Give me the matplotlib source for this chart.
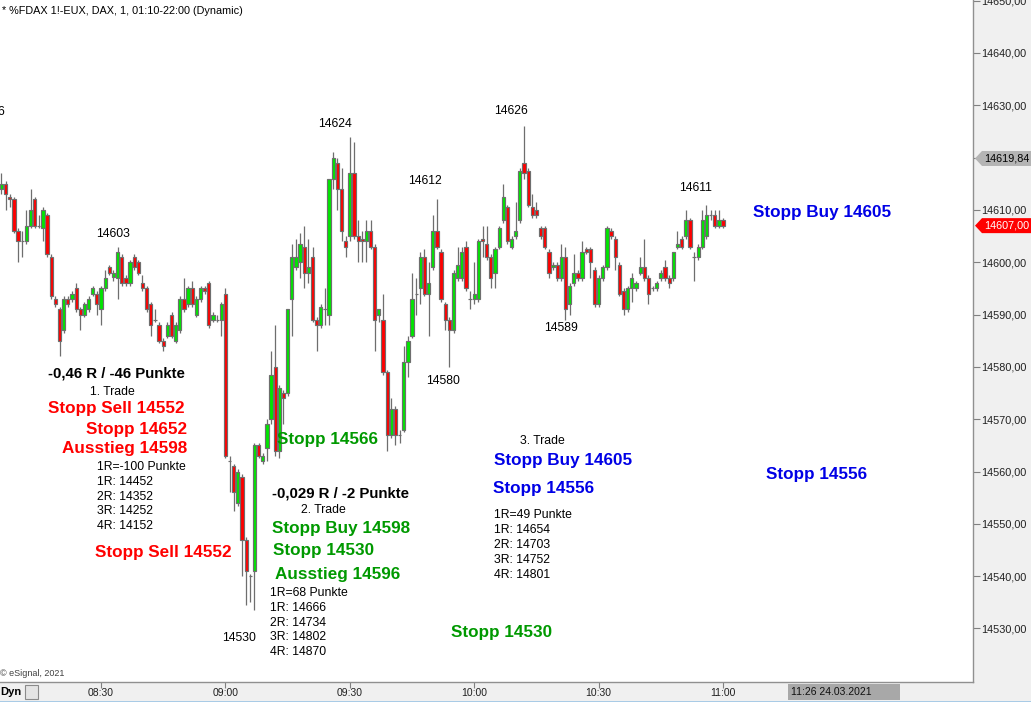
import matplotlib
matplotlib.use("Agg")
import matplotlib.pyplot as plt
from matplotlib.patches import Polygon, Rectangle

# 1-minute FDAX candles, 08:06 .. 11:00  (open, high, low, close)
start_minute = 8 * 60 + 6
opens = [14614, 14615, 14612.5, 14612, 14606, 14604, 14604, 14607, 14612, 14607,
         14606.5, 14609, 14601, 14593, 14591, 14587, 14593, 14593, 14595, 14591,
         14590, 14591, 14594, 14594, 14591, 14595, 14599, 14597.2, 14597, 14601,
         14597, 14596, 14601, 14600, 14596, 14595, 14592, 14589, 14588, 14585,
         14586, 14590, 14585, 14587, 14593, 14592, 14595, 14590, 14593, 14595,
         14596, 14589, 14589, 14589, 14594, 14562, 14561, 14554, 14559, 14547,
         14540, 14541, 14565, 14562, 14564.5, 14570, 14580, 14564, 14575, 14575,
         14593, 14599, 14600, 14603, 14598, 14601, 14589, 14588, 14591, 14590,
         14616, 14619, 14614, 14604, 14605, 14617, 14605, 14604.5, 14604, 14606,
         14603, 14590, 14589, 14579, 14567, 14572, 14567, 14568, 14581, 14586,
         14594, 14595, 14601, 14594, 14599, 14606, 14602, 14592, 14589, 14587,
         14597, 14597, 14603, 14593, 14593, 14593, 14604.5, 14603.5, 14601, 14598,
         14603, 14608, 14610.5, 14603, 14605, 14608, 14619, 14617.5, 14610.5, 14610,
         14606.5, 14606.5, 14602, 14599, 14599.5, 14597, 14601, 14592, 14596, 14598,
         14597, 14602.5, 14602.5, 14598.5, 14592, 14597, 14599, 14606, 14604.5, 14599.5,
         14594.5, 14591, 14595, 14595, 14598, 14599, 14597, 14595, 14595, 14597,
         14599, 14597, 14597, 14603, 14604.5, 14605, 14608, 14601, 14601, 14603,
         14605, 14609, 14609, 14607, 14608]
highs = [14617, 14615.5, 14613, 14612.5, 14606.5, 14606, 14610, 14614, 14612.5, 14609,
         14610.5, 14609.5, 14601.5, 14593.5, 14591.5, 14593.5, 14593.5, 14594.5, 14596, 14591.5,
         14592.5, 14593.5, 14595.5, 14594.5, 14595.5, 14598.5, 14599.5, 14598.5, 14603, 14601.5,
         14597.5, 14600.5, 14601.5, 14600.5, 14597.5, 14595.5, 14592.5, 14591, 14588.5, 14585.5,
         14588.5, 14590.5, 14588.5, 14593.5, 14597, 14595.5, 14596.5, 14593.5, 14595.5, 14595.5,
         14596.5, 14590.5, 14590, 14592.5, 14595, 14563, 14561.5, 14560.5, 14559.5, 14547.5,
         14540.5, 14565.5, 14565.5, 14563.5, 14570, 14583, 14588, 14576.5, 14575.5, 14591,
         14603.5, 14604.5, 14605.5, 14607, 14604.5, 14603, 14589.5, 14592, 14595, 14616,
         14621, 14620, 14618, 14605, 14624, 14623, 14608, 14606, 14608, 14608,
         14603.5, 14591, 14594, 14579.5, 14574, 14572.5, 14568, 14584, 14586, 14598,
         14597, 14602, 14602.5, 14600, 14609, 14612, 14602.5, 14592.5, 14589.5, 14598.5,
         14603, 14603, 14604, 14594.5, 14600, 14604.5, 14607, 14607, 14601.5, 14603,
         14607, 14615, 14611, 14605, 14611.5, 14618, 14626, 14618, 14613, 14611.5,
         14607, 14607, 14602.5, 14600, 14600, 14603.5, 14603, 14596, 14601.5, 14598.5,
         14604, 14603, 14603, 14599, 14597.5, 14599.5, 14607, 14606.5, 14605, 14600,
         14595, 14595.5, 14598, 14596.5, 14601, 14604.5, 14597.5, 14595.5, 14596.5, 14598.5,
         14600.5, 14597.5, 14602, 14606, 14605, 14610, 14608.5, 14602, 14603.5, 14610,
         14611, 14610, 14610, 14610, 14608.5]
lows = [14613, 14610, 14610.5, 14605.5, 14600, 14601, 14603.5, 14606.5, 14606.5, 14606.5,
        14604, 14601, 14593, 14591.5, 14582, 14586.5, 14591.5, 14592.5, 14590.5, 14587,
        14589.5, 14590.5, 14593.5, 14590, 14588, 14594.5, 14597.5, 14596.5, 14593, 14595.5,
        14595.5, 14595.5, 14598.5, 14597.5, 14594.5, 14590.5, 14586, 14588.5, 14584.5, 14583,
        14585.5, 14585.5, 14584.5, 14586.5, 14590.5, 14591.5, 14591.5, 14589.5, 14592.5, 14594,
        14587.5, 14588.5, 14588.5, 14586, 14562.5, 14556, 14552.5, 14553.5, 14540, 14534.5,
        14535, 14533.5, 14562.5, 14561.5, 14562, 14569, 14563, 14562.5, 14569, 14574.5,
        14586, 14598.5, 14597, 14595, 14596, 14588.5, 14583, 14587.5, 14588, 14588,
        14614, 14610, 14604, 14601, 14604, 14604.5, 14600, 14600, 14600, 14602.5,
        14583, 14588.5, 14578.5, 14564, 14566.5, 14565, 14565.5, 14567.5, 14578, 14585.5,
        14590, 14592, 14593.5, 14586, 14598.5, 14602.5, 14592.5, 14587, 14580, 14586.5,
        14596.5, 14596.5, 14594.5, 14591, 14592, 14592.5, 14601, 14600.5, 14595, 14595,
        14602.5, 14607.5, 14603.5, 14602.5, 14604.5, 14607.5, 14616, 14610.5, 14608.5, 14608.5,
        14604.5, 14602.5, 14597, 14598.5, 14596.5, 14596.5, 14589, 14590, 14595.5, 14596.5,
        14596.5, 14601.5, 14597, 14591.5, 14591.5, 14596.5, 14598.5, 14604.5, 14598.5, 14593.5,
        14590, 14590.5, 14592.5, 14594.5, 14597.5, 14596.5, 14592, 14594.5, 14594.5, 14596.5,
        14596.5, 14595, 14596.5, 14602.5, 14602.5, 14604.5, 14602.5, 14596.5, 14600.5, 14602.5,
        14604.5, 14608, 14606.5, 14606.5, 14606.5]
closes = [14615, 14613, 14612, 14606, 14604, 14604, 14607, 14610, 14607, 14607,
          14610, 14601.5, 14593.5, 14592, 14585, 14593, 14592, 14594, 14591, 14590,
          14592, 14593, 14595, 14592, 14595, 14597, 14598, 14598, 14602, 14596,
          14596, 14600, 14599, 14598, 14595, 14591, 14588, 14589, 14585, 14584,
          14588, 14586, 14588, 14593, 14591, 14595, 14592, 14593, 14595, 14594.5,
          14588, 14590, 14589, 14592, 14563, 14562, 14556, 14560, 14547, 14541,
          14540, 14565, 14563, 14563, 14569, 14578.5, 14564, 14576, 14574, 14591,
          14601, 14601, 14603.5, 14598, 14599, 14589, 14588, 14591.5, 14591, 14616,
          14620, 14614, 14606, 14603, 14617, 14605, 14604, 14604, 14606, 14603,
          14589, 14591, 14579, 14567, 14572, 14567, 14567, 14581, 14585, 14593,
          14594, 14601, 14594, 14596, 14606, 14603, 14593, 14589, 14587, 14598,
          14599.5, 14602, 14595, 14593, 14594, 14604, 14604, 14601, 14597, 14602.5,
          14606.5, 14612.5, 14604, 14604.5, 14606, 14617.5, 14617, 14611, 14609, 14609,
          14605, 14603, 14598, 14599.5, 14597, 14601, 14591, 14595.5, 14598, 14597,
          14602, 14602, 14600, 14592, 14597, 14599, 14606.5, 14605, 14601, 14594,
          14591, 14595, 14597, 14596, 14599, 14597, 14594, 14595, 14596, 14598,
          14597, 14596, 14602, 14603.5, 14603, 14608, 14603, 14601, 14603, 14608,
          14609, 14609, 14607, 14608, 14607]

price_ticks = list(range(14530, 14651, 10))
hidden_tick = 14620          # covered by the marker tag in the original
time_ticks = [510, 540, 570, 600, 630, 660]
time_labels = ["08:30", "09:00", "09:30", "10:00", "10:30", "11:00"]
last_price = 14607.00
marker_price = 14619.84

W, H = 1031, 702
BG = "#f0f0f0"
EDGE = "#6e6e6e"
GREEN = "#00e600"
RED = "#ff0000"
TGREEN = "#009900"
TBLUE = "#0000e6"


def fpx(x, y):
    return x / W, 1 - y / H


fig = plt.figure(figsize=(W / 100, H / 100), dpi=100, facecolor=BG)
ax = fig.add_axes([0, 20 / H, 973 / W, 682 / H], facecolor="white")

minutes = [start_minute + i for i in range(len(opens))]
up = [c >= o for o, c in zip(opens, closes)]
bottoms = [min(o, c) for o, c in zip(opens, closes)]
heights = [abs(c - o) for o, c in zip(opens, closes)]
colors = [GREEN if u else RED for u in up]

ax.vlines(minutes, lows, highs, color=EDGE, linewidth=0.9, zorder=1)
ax.bar(minutes, heights, bottom=bottoms, width=0.78, color=colors,
       edgecolor=EDGE, linewidth=0.85, zorder=2)

ax.set_xlim(485.64, 720.27)
ax.set_ylim(14519.77, 14650.13)

ax.yaxis.tick_right()
ax.set_yticks(price_ticks)
ax.set_yticklabels(["" if p == hidden_tick else f"{p:.2f}".replace(".", ",")
                    for p in price_ticks])
ax.set_xticks(time_ticks)
ax.set_xticklabels(time_labels)
ax.tick_params(axis="y", direction="out", length=5, width=0.8, color="#808080",
               labelsize=7.8, labelcolor="#202020", pad=1)
ax.tick_params(axis="x", direction="out", length=4, width=0.8, color="#808080",
               labelsize=7.5, labelcolor="#202020", pad=0.5)
for lbl in ax.get_xticklabels() + ax.get_yticklabels():
    lbl.set_family("Liberation Sans")
for s in ["left", "top"]:
    ax.spines[s].set_visible(False)
for s in ["right", "bottom"]:
    ax.spines[s].set_color("#909090")
    ax.spines[s].set_linewidth(1)

F = "Liberation Sans"


def txt(s, x, y, color="black", size=8.8, bold=False, ha="left"):
    fig.text(*fpx(x, y), s, color=color, fontsize=size, ha=ha, va="center",
             family=F, fontweight="bold" if bold else "normal")


# header & credits
txt("* %FDAX 1!-EUX, DAX, 1, 01:10-22:00 (Dynamic)", 2, 11, size=7.8)
txt("\u00a9 eSignal, 2021", 0, 673, color="#404040", size=6.5)

# swing high / low labels
txt("14616", 5, 112, ha="right")
txt("14603", 113, 234, ha="center")
txt("14624", 335, 124, ha="center")
txt("14612", 425, 181, ha="center")
txt("14626", 511, 111, ha="center")
txt("14611", 696, 188, ha="center")
txt("14589", 561, 328, ha="center")
txt("14580", 443, 381, ha="center")
txt("14530", 239, 638, ha="center")

# trade 1
txt("-0,46 R / -46 Punkte", 48, 374, size=10.8, bold=True)
txt("1. Trade", 90, 392)
txt("Stopp Sell 14552", 48, 409, color=RED, size=12.3, bold=True)
txt("Stopp 14652", 187, 429, color=RED, size=12.3, bold=True, ha="right")
txt("Ausstieg 14598", 187, 449, color=RED, size=12.3, bold=True, ha="right")
for i, s in enumerate(["1R=-100 Punkte", "1R: 14452", "2R: 14352", "3R: 14252", "4R: 14152"]):
    txt(s, 97, 467 + i * 14.8)
txt("Stopp Sell 14552", 95, 552, color=RED, size=12.3, bold=True)

# trade 2
txt("Stopp 14566", 277, 440, color=TGREEN, size=12.3, bold=True)
txt("-0,029 R / -2 Punkte", 272, 493, size=10.8, bold=True)
txt("2. Trade", 301, 510)
txt("Stopp Buy 14598", 272, 529, color=TGREEN, size=12.3, bold=True)
txt("Stopp 14530", 273, 550, color=TGREEN, size=12.3, bold=True)
txt("Ausstieg 14596", 275, 574, color=TGREEN, size=12.3, bold=True)
for i, s in enumerate(["1R=68 Punkte", "1R: 14666", "2R: 14734", "3R: 14802", "4R: 14870"]):
    txt(s, 270, 593 + i * 14.8)
txt("Stopp 14530", 451, 633, color=TGREEN, size=12.3, bold=True)

# trade 3
txt("3. Trade", 520, 441)
txt("Stopp Buy 14605", 494, 461, color=TBLUE, size=12.3, bold=True)
txt("Stopp 14556", 493, 488, color=TBLUE, size=12.3, bold=True)
for i, s in enumerate(["1R=49 Punkte", "1R: 14654", "2R: 14703", "3R: 14752", "4R: 14801"]):
    txt(s, 494, 515 + i * 14.9)
txt("Stopp Buy 14605", 753, 213, color=TBLUE, size=12.3, bold=True)
txt("Stopp 14556", 766, 475, color=TBLUE, size=12.3, bold=True)


# price tags on the right axis
def tag(price, face, tcolor):
    yc = ax.transData.transform((0, price))[1]
    y = H - yc
    pts = [fpx(975, y), fpx(982, y - 7.5), fpx(1031, y - 7.5), fpx(1031, y + 7.5), fpx(982, y + 7.5)]
    fig.patches.append(Polygon(pts, closed=True, transform=fig.transFigure,
                               facecolor=face, edgecolor="none", zorder=5))
    fig.text(*fpx(984, y), f"{price:.2f}".replace(".", ","), color=tcolor,
             fontsize=7.8, family=F, va="center", ha="left", zorder=6)


fig.canvas.draw()
tag(marker_price, "#b4b4b4", "black")
tag(last_price, RED, "white")

# bottom strip extras
fig.text(*fpx(0, 692), "Dyn", fontsize=8, fontweight="bold", family=F, va="center")
fig.patches.append(Rectangle(fpx(25, 699), 13 / W, 14 / H, transform=fig.transFigure,
                             facecolor="#e4e4e4", edgecolor="#8a8a8a", linewidth=0.8))
fig.patches.append(Rectangle(fpx(788, 700), 112 / W, 16 / H, transform=fig.transFigure,
                             facecolor="#a8a8a8", edgecolor="none"))
fig.text(*fpx(791, 692), "11:26 24.03.2021", fontsize=7.5, family=F, va="center",
         color="#101010")
fig.patches.append(Rectangle((0, 0), 1, 1.5 / H, transform=fig.transFigure,
                             facecolor="#a9cbe6", edgecolor="none"))

fig.savefig("out.png", dpi=100, facecolor=BG)
